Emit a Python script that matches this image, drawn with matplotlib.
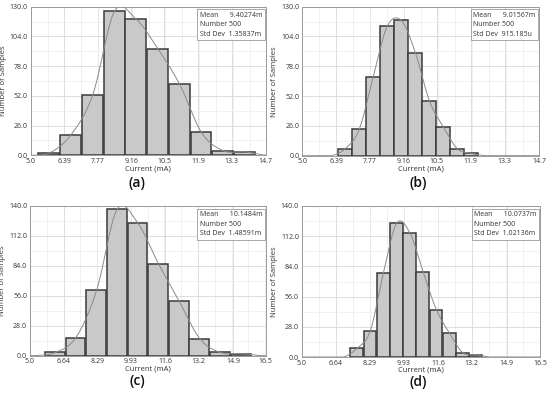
import numpy as np
import matplotlib
matplotlib.use("Agg")
import matplotlib.pyplot as plt
from matplotlib.ticker import FixedLocator, AutoMinorLocator

plt.rcParams['font.family'] = ['Open Sans', 'DejaVu Sans']

# panel data: first bin left edge, bin width, counts
panels = ['a', 'b', 'c', 'd']

start_a, width_a = 5.32, 0.897
counts_a = [2, 18, 53, 126, 119, 93, 62, 20, 4, 3]
start_b, width_b = 6.47, 0.575
counts_b = [6, 23, 69, 113, 118, 90, 48, 25, 6, 2]
start_c, width_c = 5.73, 1.007
counts_c = [3, 17, 61, 137, 124, 86, 51, 16, 3, 2]
start_d, width_d = 7.35, 0.638
counts_d = [8, 24, 78, 124, 115, 79, 44, 22, 4, 2]

xticks_ab = [5.0, 6.39, 7.77, 9.16, 10.5, 11.9, 13.3, 14.7]
xticks_cd = [5.0, 6.64, 8.29, 9.93, 11.6, 13.2, 14.9, 16.5]
yticks_ab = [0, 26, 52, 78, 104, 130]
yticks_cd = [0, 28, 56, 84, 112, 140]

stats = {
    'a': ('9.40274m', '500', '1.35837m'),
    'b': ('9.01567m', '500', '915.185u'),
    'c': ('10.1484m', '500', '1.48591m'),
    'd': ('10.0737m', '500', '1.02136m'),
}

W, H = 550, 394
fig = plt.figure(figsize=(W / 100, H / 100), dpi=100)

# axes boxes in pixels: left, top, right, bottom
boxes = {
    'a': (30.7, 6.7, 265.7, 155.3),
    'b': (302.3, 6.7, 539.0, 155.7),
    'c': (30.0, 206.0, 265.7, 355.7),
    'd': (301.7, 206.0, 540.0, 357.0),
}
label_pos = {'a': (137, 183), 'b': (418, 183), 'c': (137, 381), 'd': (418, 382)}

data = {
    'a': (start_a, width_a, counts_a, xticks_ab, yticks_ab),
    'b': (start_b, width_b, counts_b, xticks_ab, yticks_ab),
    'c': (start_c, width_c, counts_c, xticks_cd, yticks_cd),
    'd': (start_d, width_d, counts_d, xticks_cd, yticks_cd),
}


def smooth_curve(centers, counts, width, n=30):
    # catmull-rom through bar tops, padded with zeros one bin outside
    px = np.concatenate(([centers[0] - 2 * width, centers[0] - width], centers,
                         [centers[-1] + width, centers[-1] + 2 * width]))
    py = np.concatenate(([0, 0], counts, [0, 0]))
    xs, ys = [], []
    for i in range(1, len(px) - 2):
        t = np.linspace(0, 1, n, endpoint=False)
        p0, p1, p2, p3 = py[i - 1], py[i], py[i + 1], py[i + 2]
        y = 0.5 * ((2 * p1) + (-p0 + p2) * t + (2 * p0 - 5 * p1 + 4 * p2 - p3) * t ** 2
                   + (-p0 + 3 * p1 - 3 * p2 + p3) * t ** 3)
        xs.append(px[i] + (px[i + 1] - px[i]) * t)
        ys.append(y)
    return np.concatenate(xs), np.clip(np.concatenate(ys), 0, None)


for p in panels:
    l, t, r, b = boxes[p]
    ax = fig.add_axes([l / W, 1 - b / H, (r - l) / W, (b - t) / H])
    start, width, counts, xt, yt = data[p]
    counts = np.array(counts, dtype=float)
    lefts = start + width * np.arange(len(counts))
    centers = lefts + width / 2

    ax.set_xlim(xt[0], xt[-1])
    ax.set_ylim(yt[0], yt[-1])
    ax.xaxis.set_major_locator(FixedLocator(xt))
    ax.yaxis.set_major_locator(FixedLocator(yt))
    ax.xaxis.set_minor_locator(AutoMinorLocator(2))
    ax.yaxis.set_minor_locator(AutoMinorLocator(2))
    ax.set_xticklabels([str(v) for v in xt])
    ax.set_yticklabels(['%.1f' % v for v in yt])
    ax.grid(True, which='major', color='#d8d8d8', lw=0.6)
    ax.grid(True, which='minor', color='#ececec', lw=0.5)
    ax.set_axisbelow(True)
    ax.tick_params(which='both', length=0, labelsize=5, colors='#333333', pad=2)
    for s in ax.spines.values():
        s.set_color('#9a9a9a')
        s.set_linewidth(0.7)

    ax.bar(lefts, counts, width=width * 0.96, align='edge', color='#c9c9c9',
           edgecolor='#3a3a3a', linewidth=1.1, zorder=2)

    cx, cy = smooth_curve(centers, counts, width)
    cx = np.concatenate(([xt[0]], cx, [xt[-1]]))
    cy = np.concatenate(([0], cy, [0]))
    ax.plot(cx, cy, color='#8a8a8a', lw=0.7, zorder=3)

    ax.set_xlabel('Current (mA)', fontsize=5.5, labelpad=0, color='#333333')
    ax.set_ylabel('Number of Samples', fontsize=5.5, labelpad=2, color='#333333')

    mean, num, sd = stats[p]
    txt = 'Mean      %s\nNumber %s\nStd Dev  %s' % (mean, num, sd)
    ax.text(0.985, 0.965, txt, transform=ax.transAxes, ha='right', va='top',
            multialignment='left', fontsize=5, color='#333333', linespacing=1.5,
            zorder=5,
            bbox=dict(boxstyle='square,pad=0.35', fc='white', ec='#9a9a9a', lw=0.6))

    lx, ly = label_pos[p]
    fig.text(lx / W, 1 - ly / H, '(%s)' % p, ha='center', va='center',
             fontsize=10, fontweight='semibold', color='#111111')

fig.savefig('out.png', dpi=100)
